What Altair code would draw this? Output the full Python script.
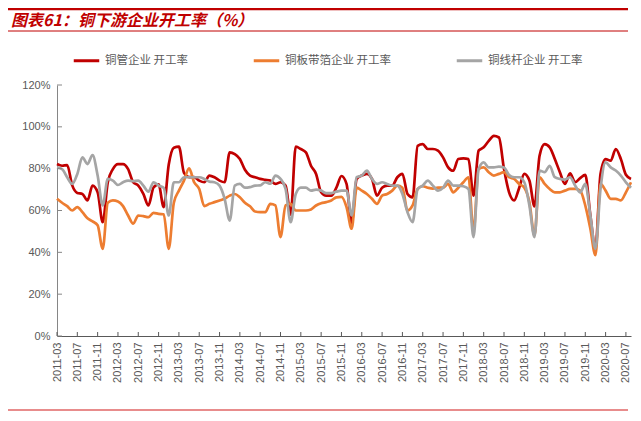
import altair as alt
import pandas as pd

# month categories 2011-03 .. 2020-08
months = [f"{y}-{m:02d}" for y in range(2011, 2021) for m in range(1, 13)][2:2 + 114]
tick_months = months[::4]
y_ticks = [0, 20, 40, 60, 80, 100, 120]

series_names = ["铜管企业 开工率", "铜板带箔企业 开工率", "铜线杆企业 开工率"]
series_colors = ["#C00000", "#ED7D31", "#A5A5A5"]

tube = [82.2, 81.4, 81.7, 72.0, 68.4, 67.9, 64.8, 71.9, 68.7, 54.4,
        73.5, 79.8, 82.2, 82.2, 79.8, 73.5, 71.9, 67.9, 62.4, 71.0,
        72.5, 61.6, 82.0, 90.0, 90.5, 78.0, 76.0, 76.0, 74.3, 73.5,
        76.7, 75.9, 74.3, 73.5, 87.8, 86.9, 84.6, 79.5, 76.7, 75.9,
        75.1, 74.7, 74.3, 72.7, 73.5, 71.9, 58.0, 90.5, 89.4, 87.8,
        81.4, 77.5, 68.7, 67.1, 67.1, 70.9, 76.5, 72.7, 54.0, 75.1,
        76.7, 77.5, 75.1, 67.1, 70.9, 71.9, 71.9, 75.9, 77.5, 67.9,
        66.3, 90.9, 91.7, 89.4, 89.4, 88.6, 85.4, 80.6, 79.0, 84.6,
        84.9, 84.6, 67.1, 88.6, 90.2, 93.3, 95.7, 94.9, 79.8, 68.7,
        64.8, 70.9, 77.5, 74.3, 62.0, 86.2, 91.7, 90.2, 84.6, 78.3,
        72.7, 77.8, 73.5, 75.5, 77.0, 57.6, 42.0, 77.5, 84.6, 83.8,
        89.4, 84.6, 77.1, 75.1]

strip = [65.6, 63.7, 62.1, 60.0, 61.6, 59.2, 56.3, 54.8, 52.9, 41.7,
         63.7, 64.8, 64.3, 62.1, 57.6, 53.7, 57.6, 57.3, 56.8, 58.9,
         58.4, 58.2, 41.7, 63.7, 69.5, 74.3, 80.1, 73.5, 70.3, 62.1,
         63.2, 64.0, 64.8, 65.6, 67.1, 67.9, 66.3, 63.7, 62.0, 59.5,
         59.2, 59.2, 63.2, 62.4, 47.3, 62.4, 63.2, 60.0, 60.0, 60.0,
         60.5, 62.4, 63.5, 64.0, 64.8, 66.3, 66.5, 61.6, 51.3, 70.9,
         69.5, 67.9, 65.6, 63.2, 67.1, 67.9, 69.5, 71.9, 70.9, 60.0,
         62.4, 70.3, 71.6, 70.9, 70.5, 70.9, 70.9, 72.7, 68.7, 70.9,
         73.5, 75.9, 50.0, 79.8, 80.6, 78.3, 76.7, 77.5, 78.3, 75.9,
         75.1, 72.7, 70.9, 64.0, 48.0, 75.9, 72.7, 70.3, 68.7, 68.7,
         69.5, 70.3, 70.3, 69.5, 62.4, 51.3, 38.6, 72.7, 69.5, 65.6,
         65.6, 64.8, 68.7, 73.5]

rod = [80.6, 79.8, 75.9, 72.7, 77.5, 85.4, 82.2, 86.5, 76.7, 62.4,
       75.1, 74.3, 72.2, 73.5, 74.3, 74.0, 74.3, 71.9, 69.0, 73.5,
       71.9, 70.9, 57.6, 73.5, 73.5, 75.9, 75.9, 75.9, 75.9, 75.1,
       73.8, 73.5, 71.9, 65.6, 55.2, 71.9, 72.7, 70.9, 71.2, 71.9,
       72.0, 73.5, 72.8, 76.7, 75.1, 70.3, 54.4, 67.9, 70.9, 70.9,
       69.5, 70.0, 69.5, 68.3, 68.3, 69.0, 69.5, 69.5, 57.6, 75.9,
       76.7, 79.1, 75.1, 72.7, 73.5, 72.7, 71.9, 71.9, 67.9, 59.2,
       54.4, 70.3, 71.9, 74.3, 71.9, 69.5, 70.9, 74.3, 71.9, 71.9,
       71.6, 70.3, 47.3, 79.8, 83.0, 80.6, 80.6, 81.0, 80.6, 77.0,
       75.9, 75.9, 73.5, 62.4, 47.3, 79.1, 78.3, 81.4, 75.9, 75.1,
       74.8, 75.9, 71.9, 68.7, 72.7, 57.6, 41.7, 70.3, 83.0, 80.6,
       79.1, 76.7, 73.5, 70.9]

rows = []
for name, vals in zip(series_names, [tube, strip, rod]):
    for m, v in zip(months, vals):
        rows.append({"month": m, "series": name, "value": v})
df = pd.DataFrame(rows)

W, H = 574, 251
LABEL_FONT = "Liberation Sans"
CJK = "Noto Sans CJK SC"

x_scale = alt.Scale(type="point", padding=0, domain=months)
y_scale = alt.Scale(domain=[0, 120])
color_scale = alt.Scale(domain=series_names, range=series_colors)

x_axis = alt.Axis(
    values=tick_months, labelAngle=-90, ticks=False, grid=False,
    domainColor="#595959", labelFontSize=11, labelColor="#595959",
    labelFont=LABEL_FONT, labelPadding=6, labelOverlap=False, title=None,
)
y_axis = alt.Axis(
    values=y_ticks, labelExpr="datum.value + '%'", ticks=False, grid=False,
    domainColor="#868686", labelFontSize=11, labelColor="#595959",
    labelFont=LABEL_FONT, labelPadding=7, title=None,
)

legend = alt.Legend(
    orient="none", legendX=15, legendY=-39, direction="horizontal", title=None,
    symbolType="stroke", symbolSize=650, symbolStrokeWidth=3,
    labelFontSize=11.5, labelColor="#595959", labelFont=CJK,
    columnPadding=58, labelOffset=4,
)

def line_layer(name):
    return alt.Chart(df).transform_filter(alt.datum.series == name).mark_line(
        strokeWidth=2.7, interpolate="monotone"
    ).encode(
        x=alt.X("month:O", scale=x_scale, axis=x_axis, sort=months),
        y=alt.Y("value:Q", scale=y_scale, axis=y_axis),
        color=alt.Color("series:N", scale=color_scale, legend=legend, sort=series_names),
    )

lines = [line_layer(n) for n in series_names]

ytick_df = pd.DataFrame({"value": y_ticks})
ytick_layer = alt.Chart(ytick_df).mark_rule(color="#868686", strokeWidth=1).encode(
    y=alt.Y("value:Q", scale=y_scale, axis=y_axis),
    x=alt.value(0), x2=alt.value(5),
)

xtick_df = pd.DataFrame({"month": tick_months})
xtick_layer = alt.Chart(xtick_df).mark_rule(color="#595959", strokeWidth=1).encode(
    x=alt.X("month:O", scale=x_scale, axis=x_axis, sort=months),
    y=alt.value(H), y2=alt.value(H - 4),
)

deco_df = pd.DataFrame({"k": [0]})
top_bar = alt.Chart(deco_df).mark_rule(color="#C00000", strokeWidth=2.5).encode(
    x=alt.value(-49), x2=alt.value(571), y=alt.value(-76)
)
title_rule = alt.Chart(deco_df).mark_rule(color="#C00000", strokeWidth=1).encode(
    x=alt.value(-49), x2=alt.value(571), y=alt.value(-54)
)
bottom_rule = alt.Chart(deco_df).mark_rule(color="#E06666", strokeWidth=1.5).encode(
    x=alt.value(-49), x2=alt.value(571), y=alt.value(H + 74)
)

chart = alt.layer(
    *lines, ytick_layer, xtick_layer, top_bar, title_rule, bottom_rule
).properties(
    width=W, height=H,
    padding={"left": 49, "top": 77, "right": 1, "bottom": 76},
    autosize=alt.AutoSizeParams(type="none"),
    title=alt.TitleParams(
        "图表61：铜下游企业开工率（%）", anchor="start", frame="group",
        color="#C00000", fontSize=16, fontWeight="bold", fontStyle="italic",
        font=CJK, dx=-46, offset=-34, baseline="alphabetic",
    ),
).configure_view(stroke=None).resolve_scale(x="shared", y="shared")

chart.save("out.html", embed_options={"renderer": "svg", "actions": False})
